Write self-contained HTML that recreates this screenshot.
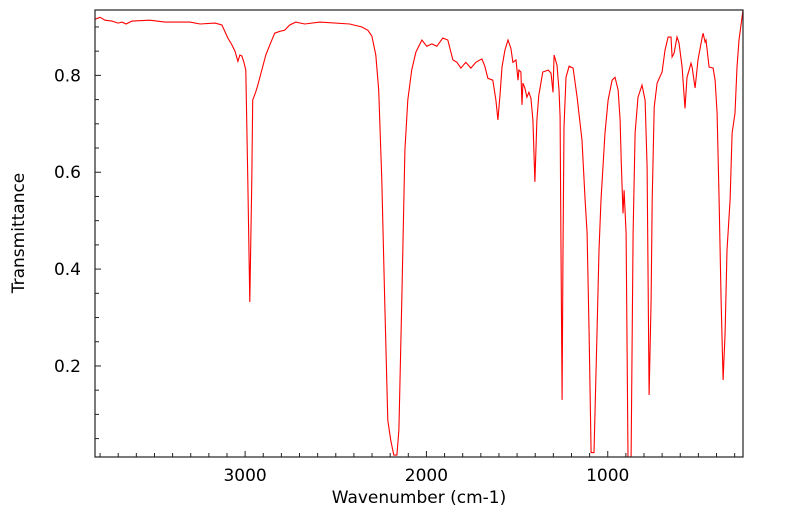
<!DOCTYPE html>
<html><head><meta charset="utf-8"><style>
body{margin:0;background:#fff;}
svg{display:block;font-family:"DejaVu Sans","Liberation Sans",sans-serif;}
</style></head><body>
<svg id="chart" width="799" height="516">
<g id="ticks"></g>
<path id="line" fill="none" stroke="#ff0000" stroke-width="1.1"/>
<rect x="95" y="10" width="648" height="447" fill="none" stroke="#222" stroke-width="1.2"/>
<text x="419" y="503" font-size="17" text-anchor="middle">Wavenumber (cm-1)</text>
<text transform="translate(24,233) rotate(-90)" font-size="17" text-anchor="middle">Transmittance</text>
</svg>
<script>
const wavenumbers=[3828,3800,3773,3734,3701,3679,3657,3624,3525,3442,3304,3249,3166,3128,3095,3073,3056,3040,3029,3018,3007,2996,2985,2974,2963,2958,2941,2930,2908,2886,2864,2837,2809,2782,2754,2721,2671,2588,2423,2356,2323,2301,2279,2263,2246,2230,2213,2197,2180,2163,2152,2136,2119,2103,2081,2058,2025,1998,1970,1943,1910,1882,1854,1832,1810,1783,1755,1727,1694,1678,1661,1634,1617,1606,1594,1583,1567,1550,1534,1523,1506,1495,1490,1479,1473,1468,1457,1446,1435,1424,1413,1402,1391,1380,1358,1329,1313,1302,1296,1280,1269,1263,1258,1252,1247,1241,1230,1213,1191,1169,1142,1125,1114,1103,1092,1076,1059,1048,1037,1015,998,976,960,943,932,926,916,910,899,888,871,860,849,833,811,794,783,772,761,755,744,728,700,684,667,651,645,634,618,607,590,574,563,541,535,518,502,480,474,463,458,441,419,408,397,386,375,364,353,342,325,314,298,287,276,254];
const transmittance=[0.916,0.920,0.914,0.912,0.908,0.910,0.906,0.912,0.914,0.910,0.910,0.906,0.908,0.904,0.877,0.863,0.850,0.829,0.842,0.840,0.827,0.811,0.584,0.332,0.584,0.749,0.766,0.780,0.811,0.842,0.863,0.887,0.891,0.893,0.904,0.910,0.906,0.910,0.906,0.900,0.893,0.881,0.842,0.770,0.584,0.336,0.088,0.047,0.016,0.016,0.068,0.336,0.646,0.749,0.811,0.848,0.873,0.860,0.865,0.860,0.877,0.873,0.832,0.827,0.815,0.827,0.815,0.827,0.834,0.819,0.794,0.790,0.749,0.708,0.759,0.817,0.852,0.873,0.856,0.827,0.832,0.790,0.811,0.807,0.739,0.784,0.774,0.755,0.765,0.753,0.708,0.580,0.708,0.759,0.807,0.811,0.805,0.765,0.842,0.821,0.770,0.714,0.439,0.130,0.439,0.693,0.796,0.819,0.815,0.755,0.666,0.543,0.474,0.268,0.021,0.021,0.268,0.439,0.543,0.681,0.749,0.790,0.796,0.770,0.708,0.625,0.515,0.563,0.474,0.012,0.012,0.474,0.681,0.755,0.780,0.749,0.611,0.140,0.336,0.543,0.734,0.784,0.807,0.852,0.879,0.879,0.838,0.846,0.879,0.867,0.817,0.732,0.796,0.825,0.817,0.774,0.832,0.877,0.887,0.869,0.873,0.817,0.815,0.790,0.722,0.543,0.336,0.171,0.268,0.439,0.543,0.681,0.722,0.817,0.873,0.935];
const xTickLabels=[3000,2000,1000];
const yTickLabels=[0.2,0.4,0.6,0.8];
const X0=95,X1=743,Y0=457,Y1=10,WMAX=3828,WMIN=254,TMIN=0.012,TMAX=0.935;
function xs(w){return X0+(WMAX-w)/(WMAX-WMIN)*(X1-X0);}
function ys(t){return Y0-(t-TMIN)/(TMAX-TMIN)*(Y0-Y1);}
const NS='http://www.w3.org/2000/svg';
let d='';
for(let i=0;i<wavenumbers.length;i++){d+=(i?'L':'M')+xs(wavenumbers[i]).toFixed(1)+' '+ys(transmittance[i]).toFixed(1);}
document.getElementById('line').setAttribute('d',d);
const g=document.getElementById('ticks');
function ln(x1,y1,x2,y2){const l=document.createElementNS(NS,'line');l.setAttribute('x1',x1);l.setAttribute('y1',y1);l.setAttribute('x2',x2);l.setAttribute('y2',y2);l.setAttribute('stroke','#222');l.setAttribute('stroke-width','1');


g.appendChild(l);}
function tx(x,y,s,anchor){const t=document.createElementNS(NS,'text');t.setAttribute('x',x);t.setAttribute('y',y);t.setAttribute('font-size','17');t.setAttribute('text-anchor',anchor);t.textContent=s;


g.appendChild(t);}
for(let w=300;w<=3800;w+=100){const x=xs(w);ln(x,Y0,x,Y0-(w%1000===0?6:4));}
xTickLabels.forEach(v=>tx(xs(v),481,String(v),'middle'));
for(let k=1;k<=18;k++){const t=k*0.05;const y=ys(t);ln(X0,y,X0+(k%4===0?6:4),y);}
yTickLabels.forEach(v=>tx(81,ys(v)+6,v.toFixed(1),'end'));
</script>
</body></html>
